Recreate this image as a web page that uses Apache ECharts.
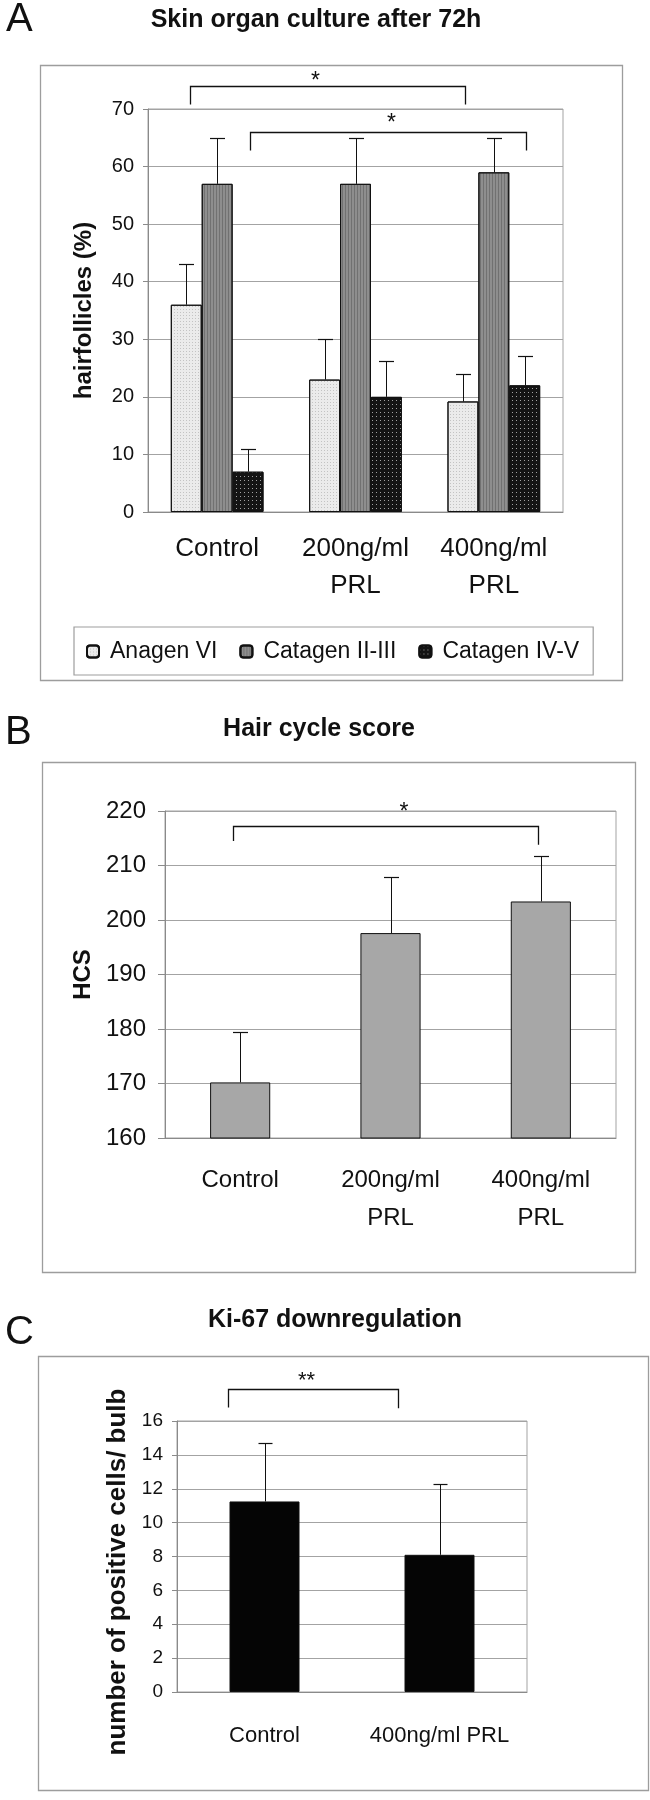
<!DOCTYPE html>
<html>
<head>
<meta charset="utf-8">
<script src="https://cdn.jsdelivr.net/npm/echarts@6/dist/echarts.min.js"></script>
<style>
html,body{margin:0;padding:0;background:#fff}
#chart{width:650px;height:1800px}
</style>
</head>
<body>
<div id="chart"></div>
<script>
// ---------- Panel A: Skin organ culture after 72h ----------
const categoriesA = ['Control', '200ng/ml\nPRL', '400ng/ml\nPRL'];
const seriesNamesA = ['Anagen VI', 'Catagen II-III', 'Catagen IV-V'];
const anagenVI = [36, 23, 19.2];
const anagenVISD = [7, 7, 4.7];
const catagenIIIII = [57, 57, 59];
const catagenIIIIISD = [8, 8, 6];
const catagenIVV = [7, 20, 22];
const catagenIVVSD = [4, 6.2, 5.1];
// significance brackets: [xLeft, xRight, yLine, yLegLeft, yLegRight, xStar, yStar] (category index / value units)
const bracketsA = [[-0.2, 1.79, 74, 70.8, 70.8, 0.71, 75.7], [0.24, 2.23, 66, 62.8, 62.8, 1.26, 68.4]];
const bracketLabelsA = ['*', '*'];

// ---------- Panel B: Hair cycle score ----------
const categoriesB = ['Control', '200ng/ml\nPRL', '400ng/ml\nPRL'];
const hcsValues = [170.2, 197.6, 203.4];
const hcsSD = [9.3, 10.3, 8.3];
const bracketsB = [[-0.05, 1.98, 217.2, 214.5, 213.8, 1.09, 220.7]];
const bracketLabelsB = ['*'];

// ---------- Panel C: Ki-67 downregulation ----------
const categoriesC = ['Control', '400ng/ml PRL'];
const ki67Values = [11.25, 8.1];
const ki67SD = [3.45, 4.16];
const bracketsC = [[-0.21, 0.76, 17.9, 16.8, 16.75, 0.24, 18.67]];
const bracketLabelsC = ['**'];

const FONT = "'Liberation Sans', Arial, Helvetica, sans-serif";
const GAP_A = 0.33, GAP_B = 0.6, GAP_C = 0.6;

function errorBarRenderer(slot, slots, gap, capWidth) {
  return function (params, api) {
    const cat = api.value(0), mean = api.value(1), sd = api.value(2);
    const band = api.size([1, 0])[0];
    const barW = band * (1 - gap) / slots;
    const base = api.coord([cat, mean]);
    const top = api.coord([cat, mean + sd]);
    const x = Math.round(base[0] + (slot - (slots - 1) / 2) * barW) + 0.5;
    const yt = Math.round(top[1]) + 0.5;
    return {
      type: 'group',
      children: [
        { type: 'line', shape: { x1: x, y1: base[1], x2: x, y2: yt }, style: { stroke: '#111', lineWidth: 1 } },
        { type: 'line', shape: { x1: x - capWidth / 2, y1: yt, x2: x + capWidth / 2, y2: yt }, style: { stroke: '#111', lineWidth: 1.2 } }
      ]
    };
  };
}

function bracketRenderer(labels, starSize) {
  return function (params, api) {
    const band = api.size([1, 0])[0];
    const pt = (c, v) => { const r = Math.round(c); const p = api.coord([r, v]); return [p[0] + (c - r) * band, p[1]]; };
    const L = pt(api.value(0), api.value(2));
    const R = pt(api.value(1), api.value(2));
    const Lb = pt(api.value(0), api.value(3));
    const Rb = pt(api.value(1), api.value(4));
    const S = pt(api.value(5), api.value(6));
    const xl = Math.round(L[0]) + 0.5, xr = Math.round(R[0]) + 0.5, y = Math.round(L[1]) + 0.5;
    return {
      type: 'group',
      children: [
        { type: 'polyline', shape: { points: [[xl, Lb[1]], [xl, y], [xr, y], [xr, Rb[1]]] }, style: { stroke: '#111', lineWidth: 1.3, fill: null } },
        { type: 'text', x: S[0], y: S[1] + starSize * 0.25, style: { text: labels[params.dataIndex], textAlign: 'center', textVerticalAlign: 'middle', font: starSize + 'px ' + FONT, fill: '#111' } }
      ]
    };
  };
}

const errData = (vals, sds) => vals.map((v, i) => [i, v, sds[i]]);

const gridLineColor = '#a3a3a3';
const axisColor = '#8a8a8a';

function frame(x, y, w, h) {
  return { type: 'rect', silent: true, shape: { x: x + 0.5, y: y + 0.5, width: w, height: h }, style: { fill: 'rgba(0,0,0,0)', stroke: '#9d9d9d', lineWidth: 1.3 } };
}
function txt(x, y, text, font, align) {
  return { type: 'text', x: x, y: y, style: { text: text, font: font, fill: '#111', textAlign: align || 'center', textVerticalAlign: 'middle' } };
}

const option = {
  animation: false,
  backgroundColor: '#ffffff',
  textStyle: { fontFamily: FONT },
  graphic: [
    frame(40, 65, 582, 615),
    frame(42, 762, 593, 510),
    frame(38, 1356, 610, 434),
    txt(6, 20, 'A', '40px ' + FONT, 'left'),
    txt(316, 20, 'Skin organ culture after 72h', 'bold 25px ' + FONT),
    txt(5, 733, 'B', '40px ' + FONT, 'left'),
    txt(319, 729, 'Hair cycle score', 'bold 25px ' + FONT),
    txt(5, 1333, 'C', '40px ' + FONT, 'left'),
    txt(335, 1320, 'Ki-67 downregulation', 'bold 25px ' + FONT)
  ],
  legend: {
    data: seriesNamesA,
    left: 74, top: 627,
    orient: 'horizontal',
    padding: [13, 14, 12, 12],
    itemWidth: 12, itemHeight: 12, itemGap: 22,
    borderColor: '#9d9d9d', borderWidth: 1.2,
    textStyle: { fontSize: 23, color: '#111', fontFamily: FONT, padding: [0, 0, 0, 6] },
    selectedMode: false
  },
  grid: [
    { left: 148, top: 109, width: 415, height: 403, show: true, borderColor: gridLineColor, borderWidth: 1, backgroundColor: 'transparent' },
    { left: 165, top: 811, width: 451, height: 327, show: true, borderColor: gridLineColor, borderWidth: 1, backgroundColor: 'transparent' },
    { left: 177, top: 1421, width: 350, height: 271, show: true, borderColor: gridLineColor, borderWidth: 1, backgroundColor: 'transparent' }
  ],
  xAxis: [
    { type: 'category', gridIndex: 0, data: categoriesA,
      axisLine: { lineStyle: { color: axisColor } },
      axisTick: { length: 8, lineStyle: { color: axisColor } },
      axisLabel: { interval: 0, fontSize: 26, lineHeight: 37, margin: 18, color: '#111' } },
    { type: 'category', gridIndex: 1, data: categoriesB,
      axisLine: { lineStyle: { color: axisColor } },
      axisTick: { length: 9, lineStyle: { color: axisColor } },
      axisLabel: { interval: 0, fontSize: 24, lineHeight: 38, margin: 23, color: '#111' } },
    { type: 'category', gridIndex: 2, data: categoriesC,
      axisLine: { lineStyle: { color: axisColor } },
      axisTick: { length: 10, lineStyle: { color: axisColor } },
      axisLabel: { interval: 0, fontSize: 22, lineHeight: 22, margin: 33, color: '#111' } }
  ],
  yAxis: [
    { type: 'value', gridIndex: 0, min: 0, max: 70, interval: 10,
      axisLine: { show: true, lineStyle: { color: axisColor } },
      axisTick: { show: true, length: 5, lineStyle: { color: axisColor } },
      axisLabel: { fontSize: 20, margin: 14, color: '#111' },
      splitLine: { lineStyle: { color: gridLineColor } },
      name: 'hairfollicles (%)', nameLocation: 'middle', nameGap: 52,
      nameTextStyle: { fontSize: 24, fontWeight: 'bold', color: '#111' } },
    { type: 'value', gridIndex: 1, min: 160, max: 220, interval: 10,
      axisLine: { show: true, lineStyle: { color: axisColor } },
      axisTick: { show: true, length: 7, lineStyle: { color: axisColor } },
      axisLabel: { fontSize: 24, margin: 19, color: '#111' },
      splitLine: { lineStyle: { color: gridLineColor } },
      name: 'HCS', nameLocation: 'middle', nameGap: 66,
      nameTextStyle: { fontSize: 24, fontWeight: 'bold', color: '#111' } },
    { type: 'value', gridIndex: 2, min: 0, max: 16, interval: 2,
      axisLine: { show: true, lineStyle: { color: axisColor } },
      axisTick: { show: true, length: 5, lineStyle: { color: axisColor } },
      axisLabel: { fontSize: 19, margin: 14, color: '#111' },
      splitLine: { lineStyle: { color: gridLineColor } },
      name: 'number of positive cells/ bulb', nameLocation: 'middle', nameGap: 35,
      nameTextStyle: { fontSize: 26, fontWeight: 'bold', color: '#111', padding: [0, 31, 0, 0] } }
  ],
  series: [
    { name: seriesNamesA[0], type: 'bar', xAxisIndex: 0, yAxisIndex: 0, data: anagenVI,
      barGap: '0%', barCategoryGap: (GAP_A * 100) + '%',
      itemStyle: { color: '#ebebeb', borderColor: '#111', borderWidth: 1,
        decal: { symbol: 'rect', symbolSize: 1, dashArrayX: [1, 2], dashArrayY: [1, 2], color: 'rgba(120,120,120,0.35)' } } },
    { name: seriesNamesA[1], type: 'bar', xAxisIndex: 0, yAxisIndex: 0, data: catagenIIIII,
      barGap: '0%', barCategoryGap: (GAP_A * 100) + '%',
      itemStyle: { color: '#8e8e8e', borderColor: '#111', borderWidth: 1,
        decal: { symbol: 'rect', symbolSize: 1, dashArrayX: [1, 2], dashArrayY: [1, 0], color: 'rgba(60,60,60,0.35)' } } },
    { name: seriesNamesA[2], type: 'bar', xAxisIndex: 0, yAxisIndex: 0, data: catagenIVV,
      barGap: '0%', barCategoryGap: (GAP_A * 100) + '%',
      itemStyle: { color: '#141414', borderColor: '#111', borderWidth: 1,
        decal: { symbol: 'rect', symbolSize: 1, dashArrayX: [1, 3], dashArrayY: [1, 3], color: 'rgba(255,255,255,0.6)' } } },
    { type: 'custom', xAxisIndex: 0, yAxisIndex: 0, clip: false, z: 5, encode: { x: 0, y: 1 },
      data: errData(anagenVI, anagenVISD), renderItem: errorBarRenderer(0, 3, GAP_A, 15) },
    { type: 'custom', xAxisIndex: 0, yAxisIndex: 0, clip: false, z: 5, encode: { x: 0, y: 1 },
      data: errData(catagenIIIII, catagenIIIIISD), renderItem: errorBarRenderer(1, 3, GAP_A, 15) },
    { type: 'custom', xAxisIndex: 0, yAxisIndex: 0, clip: false, z: 5, encode: { x: 0, y: 1 },
      data: errData(catagenIVV, catagenIVVSD), renderItem: errorBarRenderer(2, 3, GAP_A, 15) },
    { type: 'custom', xAxisIndex: 0, yAxisIndex: 0, clip: false, z: 5, encode: { x: 0, y: 2 },
      data: bracketsA, renderItem: bracketRenderer(bracketLabelsA, 23) },

    { name: 'HCS', type: 'bar', xAxisIndex: 1, yAxisIndex: 1, data: hcsValues,
      barCategoryGap: (GAP_B * 100) + '%',
      itemStyle: { color: '#a7a7a7', borderColor: '#111', borderWidth: 1 } },
    { type: 'custom', xAxisIndex: 1, yAxisIndex: 1, clip: false, z: 5, encode: { x: 0, y: 1 },
      data: errData(hcsValues, hcsSD), renderItem: errorBarRenderer(0, 1, GAP_B, 15) },
    { type: 'custom', xAxisIndex: 1, yAxisIndex: 1, clip: false, z: 5, encode: { x: 0, y: 2 },
      data: bracketsB, renderItem: bracketRenderer(bracketLabelsB, 23) },

    { name: 'Ki-67', type: 'bar', xAxisIndex: 2, yAxisIndex: 2, data: ki67Values,
      barCategoryGap: (GAP_C * 100) + '%',
      itemStyle: { color: '#050505', borderColor: '#111', borderWidth: 1 } },
    { type: 'custom', xAxisIndex: 2, yAxisIndex: 2, clip: false, z: 5, encode: { x: 0, y: 1 },
      data: errData(ki67Values, ki67SD), renderItem: errorBarRenderer(0, 1, GAP_C, 14) },
    { type: 'custom', xAxisIndex: 2, yAxisIndex: 2, clip: false, z: 5, encode: { x: 0, y: 2 },
      data: bracketsC, renderItem: bracketRenderer(bracketLabelsC, 22) }
  ]
};

const chart = echarts.init(document.getElementById('chart'), null, { renderer: 'canvas', width: 650, height: 1800 });
chart.setOption(option);
</script>
</body>
</html>
